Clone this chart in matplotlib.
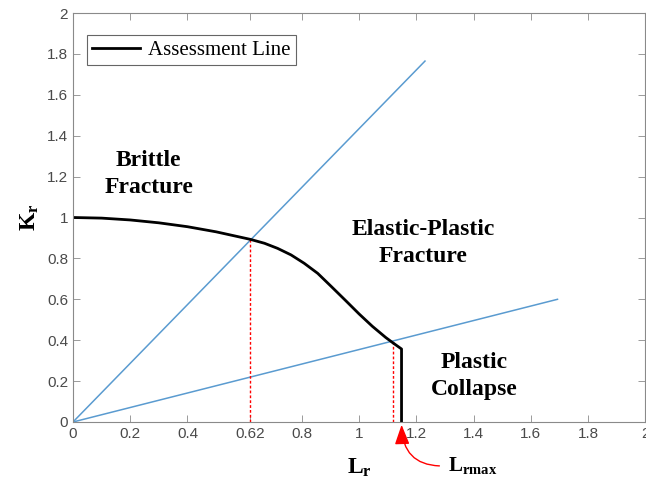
import matplotlib
matplotlib.use("Agg")
import matplotlib.pyplot as plt

# failure assessment curve (Lr, Kr), vertical cut-off at Lr_max
Lr = [0, 0.1, 0.2, 0.3, 0.4, 0.5, 0.62, 0.669, 0.715, 0.762, 0.808, 0.855,
      0.903, 0.954, 1.0, 1.046, 1.093, 1.118, 1.148, 1.148]
Kr = [1.0, 0.997, 0.988, 0.974, 0.955, 0.93, 0.893, 0.874, 0.849, 0.817, 0.776, 0.727,
      0.662, 0.592, 0.528, 0.468, 0.413, 0.387, 0.357, 0]

# two straight load lines through the origin
steep_x = [0, 1.23]
steep_y = [0, 1.765]
shallow_x = [0, 1.693]
shallow_y = [0, 0.60]

# dashed markers where the load lines meet the curve
mark_x = [0.62, 1.118]
mark_y = [0.893, 0.396]

lr_max = 1.148

xticks = [0, 0.2, 0.4, 0.62, 0.8, 1, 1.2, 1.4, 1.6, 1.8, 2]
xtick_labels = ["0", "0.2", "0.4", "0.62", "0.8", "1", "1.2", "1.4", "1.6", "1.8", "2"]
yticks = [0, 0.2, 0.4, 0.6, 0.8, 1, 1.2, 1.4, 1.6, 1.8, 2]
ytick_labels = ["0", "0.2", "0.4", "0.6", "0.8", "1", "1.2", "1.4", "1.6", "1.8", "2"]

plt.rcParams["mathtext.fontset"] = "custom"
plt.rcParams["mathtext.rm"] = "Liberation Serif"
plt.rcParams["mathtext.bf"] = "Liberation Serif:bold"

fig = plt.figure(figsize=(6.46, 4.82), dpi=100)
ax = fig.add_axes([0.113, 0.1245, 0.886, 0.8485])

blue = "#5a9bd0"
ax.plot(steep_x, steep_y, color=blue, lw=1.1)
ax.plot(shallow_x, shallow_y, color=blue, lw=1.1)
for x, y in zip(mark_x, mark_y):
    ax.plot([x, x], [0, y], color="red", lw=1.0, ls=(0, (2, 1.5)))
ax.plot(Lr, Kr, color="black", lw=2.0, label="Assessment Line")

ax.set_xlim(0, 2)
ax.set_ylim(0, 2)
ax.set_xticks(xticks)
ax.set_xticklabels(xtick_labels)
ax.set_yticks(yticks)
ax.set_yticklabels(ytick_labels)
ax.tick_params(direction="in", length=5, width=0.6, colors="#8a8a8a",
               labelcolor="#4a4a4a", labelsize=11, top=True, right=True)
for tl in ax.get_xticklabels() + ax.get_yticklabels():
    tl.set_family("Liberation Sans")
for s in ax.spines.values():
    s.set_color("#8a8a8a")
    s.set_linewidth(0.8)

ax.set_xlabel(r"$\mathbf{L_r}$", fontsize=17, labelpad=10)
ax.set_ylabel(r"$\mathbf{K_r}$", fontsize=17, labelpad=4)

bold = dict(family="Liberation Serif", weight="bold", fontsize=17,
            ha="center", va="center", linespacing=1.35)
ax.text(0.265, 1.213, "Brittle\nFracture", **bold)
ax.text(1.223, 0.875, "Elastic-Plastic\nFracture", **bold)
ax.text(1.402, 0.225, "Plastic\nCollapse", **bold)

leg = ax.legend(loc="upper left", bbox_to_anchor=(0.024, 0.946),
                prop={"family": "Liberation Serif", "size": 15},
                fancybox=False, edgecolor="#404040", handlelength=2.3,
                borderpad=0.25, handletextpad=0.4, borderaxespad=0)
leg.get_frame().set_linewidth(0.8)

# Lr_max arrow from below the axis
ax.annotate("", xy=(lr_max, 0), xytext=(1.29, -0.215), annotation_clip=False,
            arrowprops=dict(arrowstyle="-|>,head_length=1.2,head_width=0.45",
                            color="red", lw=1.0,
                            connectionstyle="angle3,angleA=0,angleB=90"))
ax.text(1.31, -0.215, r"$\mathbf{L_{rmax}}$", fontsize=15, ha="left",
        va="center", clip_on=False)

fig.savefig("out.png", dpi=100)
